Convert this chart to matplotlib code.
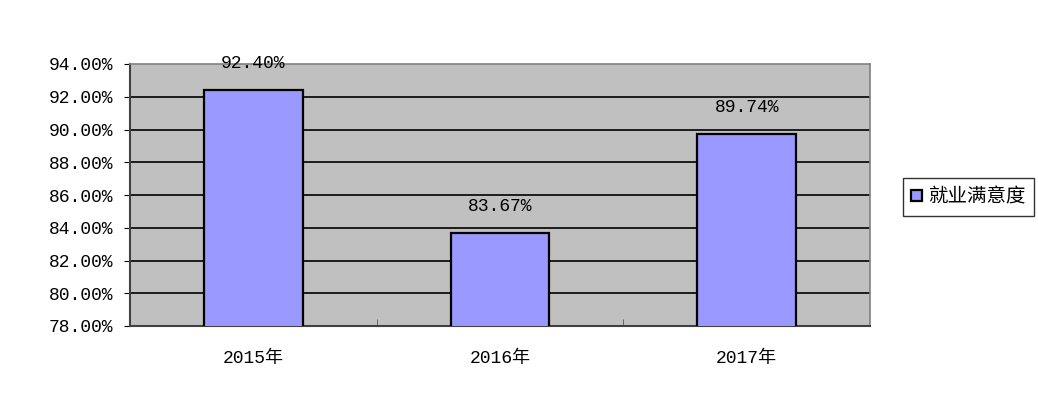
import matplotlib.pyplot as plt
from matplotlib.ticker import FuncFormatter

years = ['2015年', '2016年', '2017年']
satisfaction = [92.40, 83.67, 89.74]
label_name = '就业满意度'
yticks = [78, 80, 82, 84, 86, 88, 90, 92, 94]

fam = ['Liberation Mono', 'Noto Sans CJK SC', 'DejaVu Sans']
plt.rcParams['font.family'] = fam

fig = plt.figure(figsize=(10.38, 4.03), dpi=100)
ax = fig.add_axes([130 / 1038, 1 - 326 / 403, 740 / 1038, 262 / 403])
ax.set_facecolor('#C0C0C0')

x = list(range(len(years)))
bars = ax.bar(x, satisfaction, width=0.4, color='#9999FF', edgecolor='black',
              linewidth=1.6, label=label_name, zorder=3)

ax.set_xlim(-0.5, 2.5)
ax.set_ylim(78, 94)
ax.set_yticks(yticks)
ax.yaxis.set_major_formatter(FuncFormatter(lambda v, p: '%.2f%%' % v))
for v in yticks[1:-1]:
    ax.axhline(v, color='black', linewidth=1.2, zorder=1)

ax.set_xticks(x)
ax.set_xticklabels(years)
ax.set_xticks([0.5, 1.5], minor=True)
ax.tick_params(axis='x', which='major', length=0, pad=17, labelsize=13)
ax.tick_params(axis='x', which='minor', length=5, direction='in', color='#555555')
ax.tick_params(axis='y', length=4, direction='out', labelsize=13, pad=8)

for s in ['top', 'right']:
    ax.spines[s].set_color('#808080')
    ax.spines[s].set_linewidth(1.2)
ax.spines['left'].set_color('#404040')
ax.spines['left'].set_linewidth(1.5)
ax.spines['bottom'].set_color('#404040')
ax.spines['bottom'].set_linewidth(1.5)

for b, v in zip(bars, satisfaction):
    ax.annotate('%.2f%%' % v, (b.get_x() + b.get_width() / 2, v),
                xytext=(0, 13), textcoords='offset points', ha='center',
                va='bottom', fontsize=13, annotation_clip=False, zorder=5)

leg = fig.legend(loc='center left', bbox_to_anchor=(893 / 1038, 1 - 197 / 403),
                 frameon=True, fancybox=False, edgecolor='black',
                 handlelength=0.55, handleheight=0.55, handletextpad=0.3,
                 borderpad=0.45, prop={'family': ['Noto Sans CJK SC'], 'size': 14})
leg.get_frame().set_linewidth(1.0)

fig.savefig('out.png', dpi=100)
